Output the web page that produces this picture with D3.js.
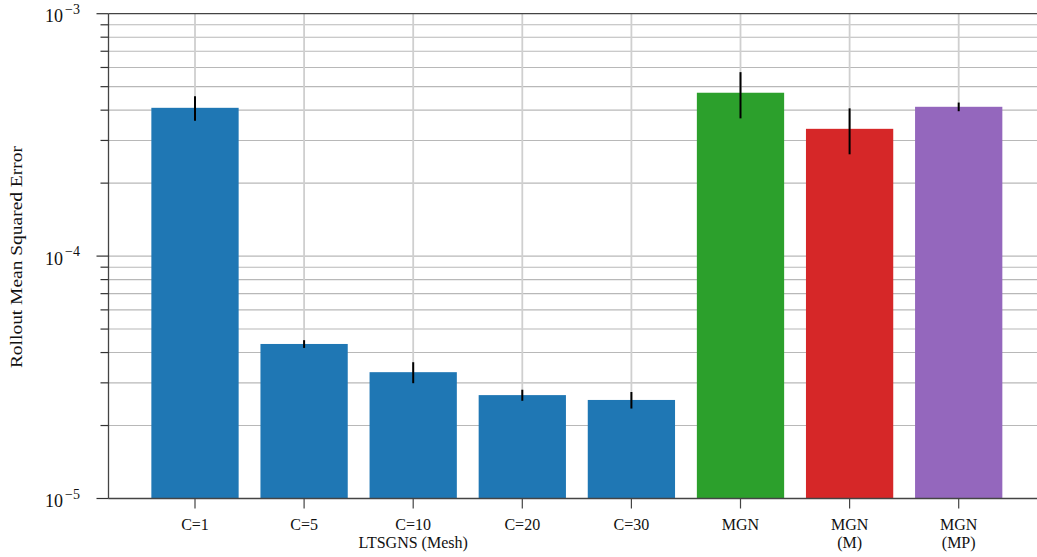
<!DOCTYPE html>
<html>
<head>
<meta charset="utf-8">
<script src="https://cdn.jsdelivr.net/npm/d3@7"></script>
<style>
  html, body { margin: 0; padding: 0; background: #fff; }
  svg { display: block; }
  text { font-family: "Liberation Serif", "Times New Roman", serif; fill: #111; }
</style>
</head>
<body>
<svg id="chart" width="1037" height="557"></svg>
<script>
// Rollout MSE per model variant (mean and standard deviation)
const categories = ["C=1", "C=5", "C=10", "C=20", "C=30", "MGN", "MGN\n(M)", "MGN\n(MP)"];
const means = [4.09e-4, 4.34e-5, 3.32e-5, 2.67e-5, 2.55e-5, 4.72e-4, 3.35e-4, 4.13e-4];
const stds  = [0.47e-4, 0.16e-5, 0.33e-5, 0.14e-5, 0.20e-5, 1.02e-4, 0.72e-4, 0.17e-4];
const barColors = ["#1f77b4", "#1f77b4", "#1f77b4", "#1f77b4", "#1f77b4", "#2ca02c", "#d62728", "#9467bd"];
const groupLabel = "LTSGNS (Mesh)";
const groupMembers = ["C=1", "C=5", "C=10", "C=20", "C=30"];
const yTickExponents = [-3, -4, -5];
const yLabel = "Rollout Mean Squared Error";

const svg = d3.select("#chart");
const plotLeft = 108.5, plotRight = 1037, plotTop = 13.7, plotBottom = 498.5;

const x = d3.scaleBand()
  .domain(categories)
  .range([140.45, 1013.25])
  .paddingInner(0.2)
  .paddingOuter(0.1);
const cx = d => x(d) + x.bandwidth() / 2;

const y = d3.scaleLog()
  .domain([1e-5, 1e-3])
  .range([plotBottom, plotTop]);

// minor tick values (2..9 per decade)
const minorVals = [];
for (let e = -5; e < -3; e++) {
  for (let m = 2; m <= 9; m++) minorVals.push(m * Math.pow(10, e));
}
const majorVals = yTickExponents.map(e => Math.pow(10, e));

// horizontal grid
const grid = svg.append("g");
grid.selectAll("line.h")
  .data(minorVals.concat(majorVals.filter(v => v > 1e-5 && v < 1e-3)))
  .join("line")
  .attr("x1", plotLeft).attr("x2", plotRight)
  .attr("y1", d => y(d)).attr("y2", d => y(d))
  .attr("stroke", "#b8b8b8").attr("stroke-width", 1.1);

// vertical grid at category centres
grid.selectAll("line.v")
  .data(categories)
  .join("line")
  .attr("x1", cx).attr("x2", cx)
  .attr("y1", plotTop).attr("y2", plotBottom)
  .attr("stroke", "#cfcfcf").attr("stroke-width", 1.8);

// bars
svg.append("g").selectAll("rect")
  .data(categories)
  .join("rect")
  .attr("x", d => x(d))
  .attr("width", x.bandwidth())
  .attr("y", (d, i) => y(means[i]))
  .attr("height", (d, i) => plotBottom - y(means[i]))
  .attr("fill", (d, i) => barColors[i]);

// error bars
svg.append("g").selectAll("line")
  .data(categories)
  .join("line")
  .attr("x1", cx).attr("x2", cx)
  .attr("y1", (d, i) => y(means[i] + stds[i]))
  .attr("y2", (d, i) => y(means[i] - stds[i]))
  .attr("stroke", "#000").attr("stroke-width", 2);

// spines
const spine = svg.append("g").attr("stroke", "#444").attr("stroke-width", 1.3);
spine.append("line").attr("x1", plotLeft).attr("x2", plotRight).attr("y1", plotTop).attr("y2", plotTop);
spine.append("line").attr("x1", plotLeft).attr("x2", plotRight).attr("y1", plotBottom).attr("y2", plotBottom);
spine.append("line").attr("x1", plotLeft).attr("x2", plotLeft).attr("y1", plotTop).attr("y2", plotBottom);

// y ticks
const ticks = svg.append("g").attr("stroke", "#333").attr("stroke-width", 1.2);
ticks.selectAll("line.major").data(majorVals).join("line")
  .attr("x1", plotLeft - 12).attr("x2", plotLeft)
  .attr("y1", d => y(d)).attr("y2", d => y(d));
ticks.selectAll("line.minor").data(minorVals).join("line")
  .attr("x1", plotLeft - 8).attr("x2", plotLeft)
  .attr("y1", d => y(d)).attr("y2", d => y(d));

// y tick labels (10^e)
const yl = svg.append("g").selectAll("text")
  .data(yTickExponents)
  .join("text")
  .attr("x", 45)
  .attr("y", e => y(Math.pow(10, e)) + 8.5)
  .attr("font-size", 18);
yl.append("tspan").text("10");
yl.append("tspan").attr("dx", 2).attr("dy", -8.5).attr("font-size", 14).text(e => "\u2212" + Math.abs(e));

// x ticks and labels
const xt = svg.append("g");
xt.selectAll("line").data(categories).join("line")
  .attr("x1", cx).attr("x2", cx)
  .attr("y1", plotBottom).attr("y2", plotBottom + 10)
  .attr("stroke", "#444").attr("stroke-width", 1.2);
const xl = xt.selectAll("text").data(categories).join("text")
  .attr("text-anchor", "middle")
  .attr("font-size", 16)
  .attr("x", cx)
  .attr("y", 530);
xl.selectAll("tspan")
  .data(d => d.split("\n").map(s => ({ s, c: cx(d) })))
  .join("tspan")
  .attr("x", t => t.c)
  .attr("dy", (t, i) => i === 0 ? 0 : 17.5)
  .text(t => t.s);

// group label under the LTSGNS variants
const gx = d3.mean(groupMembers, cx);
svg.append("text")
  .attr("x", gx).attr("y", 547.5)
  .attr("text-anchor", "middle")
  .attr("font-size", 16)
  .text(groupLabel);

// y axis title
svg.append("text")
  .attr("transform", `translate(22,${(plotTop + plotBottom) / 2 + 1}) rotate(-90)`)
  .attr("text-anchor", "middle")
  .attr("font-size", 17.5)
  .attr("textLength", 222)
  .attr("lengthAdjust", "spacingAndGlyphs")
  .text(yLabel);
</script>
</body>
</html>
